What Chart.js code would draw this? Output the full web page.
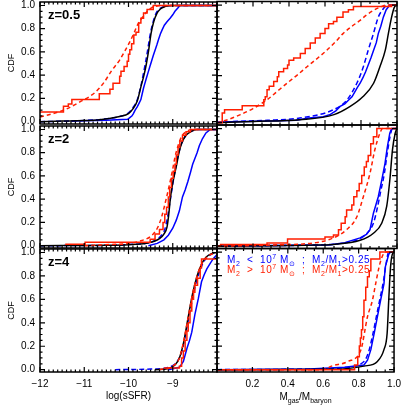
<!DOCTYPE html>
<html>
<head>
<meta charset="utf-8">
<script src="https://cdn.jsdelivr.net/npm/chart.js@4.4.1/dist/chart.umd.min.js"></script>
<style>
    html, body { margin: 0; padding: 0; background: #fff; overflow: hidden; }
    #wrap { position: relative; width: 407px; height: 407px; overflow: hidden; background: #fff; }
    #wrap canvas { position: absolute; }
</style>
</head>
<body>
<div id="wrap"></div>
<script>
// ---- axis ticks and labels ----
const redshifts = ['z=0.5', 'z=2', 'z=4'];
const cdfTicks = [0, 0.2, 0.4, 0.6, 0.8, 1.0];
const cdfTickLabels = ['0.0', '0.2', '0.4', '0.6', '0.8', '1.0'];
const sfrTicks = [-12, -11, -10, -9];
const sfrTickLabels = ['\u221212', '\u221211', '\u221210', '\u22129'];
const gasTicks = [0.2, 0.4, 0.6, 0.8, 1.0];
const gasTickLabels = ['0.2', '0.4', '0.6', '0.8', '1.0'];

// ---- z=0.5, log(sSFR) ----
const sfr05RedX = [-12.05, -11.47, -11.36, -11.28, -10.66, -10.42, -10.35, -10.20, -10.17, -10.10, -10.03, -10.00, -9.97, -9.93, -9.88, -9.83, -9.77, -9.72, -9.66, -9.58, -9.44, -8];
const sfr05RedY = [0.083, 0.133, 0.153, 0.19, 0.24, 0.28, 0.33, 0.39, 0.435, 0.475, 0.52, 0.58, 0.62, 0.67, 0.745, 0.77, 0.85, 0.89, 0.935, 0.965, 1.0, 1.0];
const sfr05RedDashX = [-12.0, -11.7, -11.4, -11.1, -10.76, -10.55, -10.38, -10.2, -10.08, -9.98, -9.89, -9.80, -9.70, -9.6, -9.48, -9.35, -9.25, -8];
const sfr05RedDashY = [0.04, 0.07, 0.11, 0.17, 0.25, 0.34, 0.44, 0.53, 0.61, 0.68, 0.75, 0.83, 0.89, 0.94, 0.98, 0.995, 1.0, 1.0];
const sfr05BlackX = [-12, -11.5, -11, -10.7, -10.4, -10.2, -10.0, -9.9, -9.8, -9.72, -9.65, -9.6, -9.55, -9.49, -9.43, -9.36, -9.28, -9.18, -9.0, -8];
const sfr05BlackY = [0.0, 0.005, 0.01, 0.015, 0.03, 0.045, 0.07, 0.11, 0.18, 0.3, 0.4, 0.49, 0.6, 0.76, 0.86, 0.93, 0.97, 0.99, 1.0, 1.0];
const sfr05BlueX = [-11.3, -10.5, -10.02, -9.97, -9.92, -9.89, -9.85, -9.80, -9.76, -9.72, -9.69, -9.66, -9.63, -9.60, -9.56, -9.52, -9.48, -9.44, -9.40, -9.36, -9.32, -9.28, -9.24, -9.19, -9.13, -9.06, -9.0, -8.95, -8.88, -8.84, -8];
const sfr05BlueY = [0.005, 0.012, 0.02, 0.035, 0.05, 0.07, 0.10, 0.13, 0.16, 0.19, 0.24, 0.29, 0.33, 0.37, 0.42, 0.47, 0.52, 0.57, 0.615, 0.66, 0.71, 0.755, 0.79, 0.83, 0.86, 0.89, 0.92, 0.95, 0.98, 1.0, 1.0];
const sfr05BlueDashX = [-12, -11, -10.5, -10.2, -10.0, -9.9, -9.8, -9.73, -9.67, -9.62, -9.57, -9.51, -9.45, -9.38, -9.3, -9.2, -9.05, -8];
const sfr05BlueDashY = [0.0, 0.01, 0.025, 0.045, 0.075, 0.12, 0.19, 0.29, 0.40, 0.50, 0.61, 0.75, 0.85, 0.93, 0.97, 0.99, 1.0, 1.0];

// ---- z=0.5, gas fraction ----
const gas05RedX = [-0.01, 0.029, 0.042, 0.14, 0.26, 0.268, 0.278, 0.29, 0.315, 0.335, 0.343, 0.37, 0.392, 0.40, 0.426, 0.463, 0.49, 0.518, 0.546, 0.573, 0.60, 0.62, 0.647, 0.666, 0.70, 0.73, 0.758, 0.97, 1.01];
const gas05RedY = [0.0, 0.082, 0.11, 0.143, 0.194, 0.22, 0.28, 0.31, 0.35, 0.39, 0.433, 0.46, 0.49, 0.53, 0.55, 0.588, 0.63, 0.678, 0.72, 0.757, 0.80, 0.84, 0.86, 0.897, 0.94, 0.96, 0.987, 1.0, 1.0];
const gas05RedDashX = [0, 0.05, 0.13, 0.2, 0.278, 0.33, 0.389, 0.45, 0.50, 0.56, 0.61, 0.66, 0.70, 0.75, 0.795, 0.83, 0.869, 0.91, 0.943, 1.0];
const gas05RedDashY = [0, 0.02, 0.068, 0.12, 0.194, 0.26, 0.335, 0.41, 0.475, 0.55, 0.616, 0.69, 0.757, 0.82, 0.87, 0.915, 0.954, 0.985, 1.0, 1.0];
const gas05BlackX = [0, 0.2, 0.46, 0.65, 0.74, 0.81, 0.87, 0.905, 0.935, 0.952, 0.97, 0.985, 1.0];
const gas05BlackY = [0.0, 0.01, 0.025, 0.068, 0.138, 0.22, 0.335, 0.475, 0.616, 0.757, 0.897, 0.98, 1.0];
const gas05BlueX = [0.0, 0.15, 0.30, 0.44, 0.51, 0.59, 0.63, 0.66, 0.684, 0.71, 0.73, 0.75, 0.765, 0.78, 0.795, 0.81, 0.825, 0.84, 0.855, 0.87, 0.885, 0.896, 0.91, 0.924, 0.94, 0.96, 1.0];
const gas05BlueY = [0.005, 0.01, 0.015, 0.02, 0.04, 0.05, 0.07, 0.10, 0.138, 0.16, 0.19, 0.22, 0.26, 0.30, 0.335, 0.38, 0.43, 0.49, 0.55, 0.616, 0.68, 0.757, 0.82, 0.897, 0.96, 1.0, 1.0];
const gas05BlueDashX = [0, 0.09, 0.28, 0.46, 0.647, 0.72, 0.777, 0.813, 0.84, 0.869, 0.896, 0.92, 0.943, 0.97, 1.0];
const gas05BlueDashY = [0.0, 0.01, 0.02, 0.04, 0.11, 0.19, 0.335, 0.475, 0.616, 0.757, 0.897, 0.96, 0.996, 1.0, 1.0];

// ---- z=2, log(sSFR) ----
const sfr2RedX = [-11.43, -10.98, -9.51, -9.40, -9.30, -9.22, -9.18, -9.14, -9.10, -9.07, -9.03, -8.99, -8.95, -8.92, -8.88, -8.84, -8.78, -8.70, -8.60, -8];
const sfr2RedY = [0.012, 0.03, 0.055, 0.10, 0.14, 0.20, 0.27, 0.33, 0.42, 0.50, 0.58, 0.64, 0.70, 0.78, 0.85, 0.90, 0.95, 0.98, 1.0, 1.0];
const sfr2RedDashX = [-11.0, -10.4, -10.0, -9.74, -9.5, -9.35, -9.25, -9.15, -9.06, -9.0, -8.95, -8.88, -8.8, -8.7, -8.55, -8];
const sfr2RedDashY = [0.0, 0.01, 0.02, 0.04, 0.08, 0.15, 0.25, 0.4, 0.55, 0.66, 0.76, 0.86, 0.94, 0.98, 1.0, 1.0];
const sfr2BlackX = [-12, -10.5, -10.0, -9.6, -9.4, -9.3, -9.2, -9.13, -9.09, -9.05, -9.0, -8.95, -8.91, -8.86, -8.8, -8.72, -8.6, -8.45, -8];
const sfr2BlackY = [0, 0.003, 0.008, 0.02, 0.04, 0.06, 0.1, 0.16, 0.27, 0.42, 0.54, 0.63, 0.70, 0.8, 0.88, 0.94, 0.98, 1.0, 1.0];
const sfr2BlueX = [-9.55, -9.35, -9.2, -9.1, -9.0, -8.92, -8.85, -8.78, -8.72, -8.66, -8.6, -8.55, -8.5, -8.45, -8.4, -8.33, -8.25, -8.15, -8];
const sfr2BlueY = [0.0, 0.02, 0.05, 0.09, 0.15, 0.22, 0.3, 0.42, 0.48, 0.55, 0.63, 0.70, 0.75, 0.8, 0.86, 0.92, 0.97, 1.0, 1.0];
const sfr2BlueDashX = [-12, -10.5, -10.0, -9.6, -9.4, -9.28, -9.18, -9.12, -9.07, -9.02, -8.97, -8.92, -8.87, -8.8, -8.7, -8.55, -8.4, -8];
const sfr2BlueDashY = [0, 0.003, 0.01, 0.02, 0.045, 0.08, 0.14, 0.24, 0.36, 0.48, 0.6, 0.7, 0.79, 0.88, 0.95, 0.99, 1.0, 1.0];

// ---- z=2, gas fraction ----
const gas2RedX = [-0.01, 0.02, 0.278, 0.392, 0.60, 0.647, 0.675, 0.69, 0.712, 0.72, 0.749, 0.76, 0.777, 0.79, 0.804, 0.818, 0.83, 0.84, 0.854, 0.869, 0.888, 1.01];
const gas2RedY = [0.0, 0.013, 0.027, 0.06, 0.077, 0.095, 0.139, 0.195, 0.25, 0.308, 0.35, 0.42, 0.47, 0.533, 0.6, 0.673, 0.72, 0.77, 0.87, 0.93, 1.0, 1.0];
const gas2RedDashX = [0, 0.3, 0.55, 0.647, 0.72, 0.777, 0.813, 0.85, 0.877, 0.905, 0.92, 1.0];
const gas2RedDashY = [0, 0.01, 0.03, 0.07, 0.14, 0.25, 0.42, 0.62, 0.82, 0.96, 1.0, 1.0];
const gas2BlackX = [0, 0.3, 0.5, 0.647, 0.795, 0.869, 0.915, 0.943, 0.96, 0.975, 0.99, 1.0];
const gas2BlackY = [0, 0.003, 0.008, 0.015, 0.05, 0.11, 0.195, 0.34, 0.56, 0.82, 0.96, 1.0];
const gas2BlueX = [0, 0.3, 0.62, 0.71, 0.795, 0.83, 0.85, 0.869, 0.896, 0.915, 0.933, 0.946, 0.96, 0.97, 1.0];
const gas2BlueY = [0, 0.005, 0.01, 0.03, 0.07, 0.1, 0.14, 0.28, 0.42, 0.56, 0.70, 0.84, 0.96, 1.0, 1.0];
const gas2BlueDashX = [0, 0.3, 0.6, 0.7, 0.79, 0.84, 0.87, 0.89, 0.91, 0.93, 0.945, 0.96, 0.975, 1.0];
const gas2BlueDashY = [0, 0.005, 0.012, 0.025, 0.06, 0.12, 0.2, 0.32, 0.47, 0.62, 0.78, 0.92, 1.0, 1.0];

// ---- z=4, log(sSFR) ----
const sfr4RedX = [-9.2, -8.85, -8.80, -8.76, -8.72, -8.68, -8.65, -8.61, -8.57, -8.53, -8.50, -8.44, -8.38, -8.35, -7.9];
const sfr4RedY = [0.015, 0.03, 0.1, 0.16, 0.25, 0.33, 0.4, 0.5, 0.6, 0.66, 0.72, 0.78, 0.87, 0.945, 1.0];
const sfr4RedDashX = [-9.3, -9.0, -8.85, -8.75, -8.65, -8.55, -8.45, -8.35, -8.2, -8.0];
const sfr4RedDashY = [0, 0.03, 0.1, 0.25, 0.45, 0.65, 0.8, 0.9, 0.97, 1.0];
const sfr4BlackX = [-9.4, -9.1, -8.95, -8.85, -8.75, -8.65, -8.55, -8.45, -8.35, -8.25, -8.1, -8.0];
const sfr4BlackY = [0, 0.01, 0.04, 0.1, 0.24, 0.45, 0.65, 0.8, 0.9, 0.96, 0.995, 1.0];
const sfr4BlueX = [-9.1, -8.85, -8.76, -8.68, -8.62, -8.57, -8.5, -8.42, -8.35, -8.29, -8.23, -8.15, -8.08, -7.98];
const sfr4BlueY = [0, 0.02, 0.07, 0.18, 0.25, 0.32, 0.47, 0.61, 0.75, 0.81, 0.86, 0.91, 0.95, 0.99];
const sfr4BlueDashX = [-10.3, -9.5, -9.1, -8.9, -8.8, -8.7, -8.6, -8.5, -8.4, -8.3, -8.15, -8.0];
const sfr4BlueDashY = [0, 0.005, 0.02, 0.07, 0.15, 0.32, 0.52, 0.7, 0.83, 0.92, 0.98, 1.0];

// ---- z=4, gas fraction ----
const gas4RedX = [-0.01, 0.777, 0.795, 0.804, 0.81, 0.816, 0.823, 0.83, 0.84, 0.85, 0.86, 0.869, 0.92, 1.01];
const gas4RedY = [0, 0.04, 0.11, 0.2, 0.27, 0.34, 0.45, 0.59, 0.70, 0.79, 0.84, 0.94, 1.0, 1.0];
const gas4RedDashX = [0, 0.6, 0.647, 0.74, 0.813, 0.85, 0.878, 0.896, 0.915, 0.93, 0.95, 1.0];
const gas4RedDashY = [0, 0.0, 0.03, 0.07, 0.17, 0.45, 0.59, 0.73, 0.87, 0.95, 1.0, 1.0];
const gas4BlackX = [0, 0.647, 0.83, 0.906, 0.943, 0.961, 0.97, 0.98, 0.99, 1.0];
const gas4BlackY = [0, 0.003, 0.03, 0.07, 0.17, 0.31, 0.59, 0.87, 0.98, 1.0];
const gas4BlueX = [0, 0.52, 0.72, 0.83, 0.85, 0.869, 0.888, 0.906, 0.924, 0.943, 0.95, 0.97, 0.98, 1.0];
const gas4BlueY = [0, 0.005, 0.02, 0.04, 0.08, 0.17, 0.31, 0.45, 0.59, 0.73, 0.87, 0.98, 1.0, 1.0];
const gas4BlueDashX = [0, 0.5, 0.7, 0.8, 0.84, 0.86, 0.88, 0.9, 0.92, 0.94, 0.955, 0.97, 1.0];
const gas4BlueDashY = [0, 0.005, 0.015, 0.04, 0.09, 0.17, 0.3, 0.45, 0.6, 0.75, 0.9, 1.0, 1.0];

// legend and axis text (runs: [text, 'sub'|'sup'|undefined])
const legendBlue = [['M'], ['2', 'sub'], ['  <  10'], ['7', 'sup'], [' M'], ['\u2299', 'sub'], ['  ;  M'], ['2', 'sub'], ['/M'], ['1', 'sub'], ['>0.25']];
const legendRed = [['M'], ['2', 'sub'], ['  >  10'], ['7', 'sup'], [' M'], ['\u2299', 'sub'], ['  ;  M'], ['2', 'sub'], ['/M'], ['1', 'sub'], ['>0.25']];
const gasTitle = [['M'], ['gas', 'sub'], ['/M'], ['baryon', 'sub']];

const FONT = '"Liberation Sans", Arial, Helvetica, sans-serif';
const RED = 'rgb(255,30,0)';
const BLUE = 'rgb(0,0,255)';
const BLACK = '#000';
Chart.defaults.font.family = FONT;
Chart.defaults.color = '#000';

function pts(xs, ys) {
    return xs.map((x, i) => ({ x: x, y: ys[i] }));
}

// draw a line of text with sub/superscripts
function drawRuns(ctx, runs, x, y, size, color, center, spacing) {
    const small = Math.round(size * 0.7);
    const gap = spacing || 0;
    let w = 0;
    runs.forEach(r => {
        ctx.font = (r[1] ? small : size) + 'px ' + FONT;
        w += ctx.measureText(r[0]).width + gap * r[0].length;
    });
    if (center) x -= w / 2;
    ctx.fillStyle = color;
    ctx.textBaseline = 'alphabetic';
    runs.forEach(r => {
        ctx.font = (r[1] ? small : size) + 'px ' + FONT;
        const dy = r[1] === 'sub' ? 3 : (r[1] === 'sup' ? -4 : 0);
        // place characters one by one so the spacing is even
        for (const ch of r[0]) {
            ctx.fillText(ch, x, y + dy);
            x += ctx.measureText(ch).width + gap;
        }
    });
}

// IDL style box: frame + inward ticks on all sides, plus panel texts
const framePlugin = {
    id: 'frame',
    afterDatasetsDraw(chart, args, o) {
        const { ctx, chartArea: a } = chart;
        const xs = chart.scales.x, ys = chart.scales.y;
        ctx.save();
        ctx.strokeStyle = '#000';
        ctx.lineWidth = 1.2;
        ctx.beginPath();
        const nx = Math.round((o.xMax - o.xMin) / o.xMinor);
        for (let i = 0; i <= nx; i++) {
            const v = o.xMin + i * o.xMinor;
            const r = v / o.xMajor;
            const len = Math.abs(r - Math.round(r)) < 1e-6 ? 5 : 2.5;
            const px = xs.getPixelForValue(v);
            ctx.moveTo(px, a.bottom); ctx.lineTo(px, a.bottom - len);
            ctx.moveTo(px, a.top); ctx.lineTo(px, a.top + len);
        }
        const ny = Math.round(1 / 0.05);
        for (let i = 0; i <= ny; i++) {
            const v = i * 0.05;
            const r = v / 0.2;
            const len = Math.abs(r - Math.round(r)) < 1e-6 ? 5 : 2.5;
            const py = ys.getPixelForValue(v);
            ctx.moveTo(a.left, py); ctx.lineTo(a.left + len, py);
            ctx.moveTo(a.right, py); ctx.lineTo(a.right - len, py);
        }
        ctx.stroke();
        ctx.lineWidth = 1.5;
        ctx.strokeRect(a.left, a.top, a.right - a.left, a.bottom - a.top);

        if (o.label) {
            ctx.fillStyle = '#000';
            ctx.font = 'bold 13px ' + FONT;
            ctx.textBaseline = 'alphabetic';
            ctx.fillText(o.label, a.left + 8, a.top + 17);
        }
        if (o.legend) {
            drawRuns(ctx, legendBlue, a.left + 10, a.top + 14.5, 10, BLUE, false, 0.55);
            drawRuns(ctx, legendRed, a.left + 10, a.top + 24.5, 10, RED, false, 0.55);
        }
        if (o.gasTitle) {
            drawRuns(ctx, gasTitle, (a.left + a.right) / 2, a.bottom + 27.5, 10, '#000', true, 0);
        }
        ctx.restore();
    }
};

function curves(s) {
    return [
        { data: pts(s.red[0], s.red[1]), borderColor: RED, stepped: true },
        { data: pts(s.redDash[0], s.redDash[1]), borderColor: RED, borderDash: [4, 3], cubicInterpolationMode: 'monotone' },
        { data: pts(s.black[0], s.black[1]), borderColor: BLACK, cubicInterpolationMode: 'monotone' },
        { data: pts(s.blue[0], s.blue[1]), borderColor: BLUE },
        { data: pts(s.blueDash[0], s.blueDash[1]), borderColor: BLUE, borderDash: [5, 3], cubicInterpolationMode: 'monotone' }
    ].map(d => Object.assign({ borderWidth: 1.5, pointRadius: 0, fill: false }, d));
}

const panels = [
    { row: 0, col: 0, label: redshifts[0], s: { red: [sfr05RedX, sfr05RedY], redDash: [sfr05RedDashX, sfr05RedDashY], black: [sfr05BlackX, sfr05BlackY], blue: [sfr05BlueX, sfr05BlueY], blueDash: [sfr05BlueDashX, sfr05BlueDashY] } },
    { row: 0, col: 1, s: { red: [gas05RedX, gas05RedY], redDash: [gas05RedDashX, gas05RedDashY], black: [gas05BlackX, gas05BlackY], blue: [gas05BlueX, gas05BlueY], blueDash: [gas05BlueDashX, gas05BlueDashY] } },
    { row: 1, col: 0, label: redshifts[1], s: { red: [sfr2RedX, sfr2RedY], redDash: [sfr2RedDashX, sfr2RedDashY], black: [sfr2BlackX, sfr2BlackY], blue: [sfr2BlueX, sfr2BlueY], blueDash: [sfr2BlueDashX, sfr2BlueDashY] } },
    { row: 1, col: 1, s: { red: [gas2RedX, gas2RedY], redDash: [gas2RedDashX, gas2RedDashY], black: [gas2BlackX, gas2BlackY], blue: [gas2BlueX, gas2BlueY], blueDash: [gas2BlueDashX, gas2BlueDashY] } },
    { row: 2, col: 0, label: redshifts[2], s: { red: [sfr4RedX, sfr4RedY], redDash: [sfr4RedDashX, sfr4RedDashY], black: [sfr4BlackX, sfr4BlackY], blue: [sfr4BlueX, sfr4BlueY], blueDash: [sfr4BlueDashX, sfr4BlueDashY] } },
    { row: 2, col: 1, legend: true, s: { red: [gas4RedX, gas4RedY], redDash: [gas4RedDashX, gas4RedDashY], black: [gas4BlackX, gas4BlackY], blue: [gas4BlueX, gas4BlueY], blueDash: [gas4BlueDashX, gas4BlueDashY] } }
];

const rows = [[1.5, 125], [125, 248.5], [248.5, 372]];
const cols = [[40, 217], [217, 397]];
const wrap = document.getElementById('wrap');

panels.forEach(p => {
    const top = rows[p.row][0], bottom = rows[p.row][1];
    const left = cols[p.col][0], right = cols[p.col][1];
    const isSfr = p.col === 0;
    const lastRow = p.row === 2;
    const cTop = Math.floor(top) - 10;
    const cBottom = lastRow ? 407 : Math.ceil(bottom) + 10;
    const cLeft = isSfr ? 0 : left - 10;
    const cRight = isSfr ? right + 10 : 407;

    const canvas = document.createElement('canvas');
    canvas.width = cRight - cLeft;
    canvas.height = cBottom - cTop;
    canvas.style.left = cLeft + 'px';
    canvas.style.top = cTop + 'px';
    wrap.appendChild(canvas);

    const xTicks = isSfr ? sfrTicks : gasTicks;
    const xLabels = isSfr ? sfrTickLabels : gasTickLabels;

    new Chart(canvas, {
        type: 'line',
        data: { datasets: curves(p.s) },
        options: {
            responsive: false,
            animation: false,
            devicePixelRatio: 1,
            layout: {
                padding: {
                    left: isSfr ? 0 : left - cLeft,
                    right: cRight - right,
                    top: top - cTop,
                    bottom: lastRow ? 0 : cBottom - bottom
                }
            },
            plugins: {
                legend: { display: false },
                tooltip: { enabled: false },
                frame: {
                    xMin: isSfr ? -12 : 0,
                    xMax: isSfr ? -8 : 1,
                    xMinor: isSfr ? 0.1 : 0.05,
                    xMajor: isSfr ? 1 : 0.2,
                    label: p.label,
                    legend: !!p.legend,
                    gasTitle: lastRow && !isSfr
                }
            },
            scales: {
                x: {
                    type: 'linear',
                    min: isSfr ? -12 : 0,
                    max: isSfr ? -8 : 1,
                    display: lastRow,
                    grid: { display: false, drawTicks: false },
                    border: { display: false },
                    afterFit: s => { if (lastRow) s.height = 407 - bottom; },
                    afterBuildTicks: s => { s.ticks = xTicks.map(v => ({ value: v })); },
                    ticks: {
                        callback: (v, i) => xLabels[i],
                        padding: 6,
                        maxRotation: 0,
                        autoSkip: false,
                        font: { size: 10 },
                        color: '#000'
                    },
                    title: {
                        display: isSfr,
                        text: 'log(sSFR)',
                        padding: { top: 0, bottom: 5 },
                        font: { size: 10 },
                        color: '#000'
                    }
                },
                y: {
                    type: 'linear',
                    min: -0.02,
                    max: 1.03,
                    display: isSfr,
                    grid: { display: false, drawTicks: false },
                    border: { display: false },
                    afterFit: s => { if (isSfr) s.width = 40; },
                    afterBuildTicks: s => { s.ticks = cdfTicks.map(v => ({ value: v })); },
                    ticks: {
                        callback: (v, i) => cdfTickLabels[i],
                        padding: 5,
                        font: { size: 10 },
                        color: '#000'
                    },
                    title: {
                        display: true,
                        text: 'CDF',
                        font: { size: 9 },
                        padding: { top: 6, bottom: 0 },
                        color: '#000'
                    }
                }
            }
        },
        plugins: [framePlugin]
    });
});
</script>
</body>
</html>
